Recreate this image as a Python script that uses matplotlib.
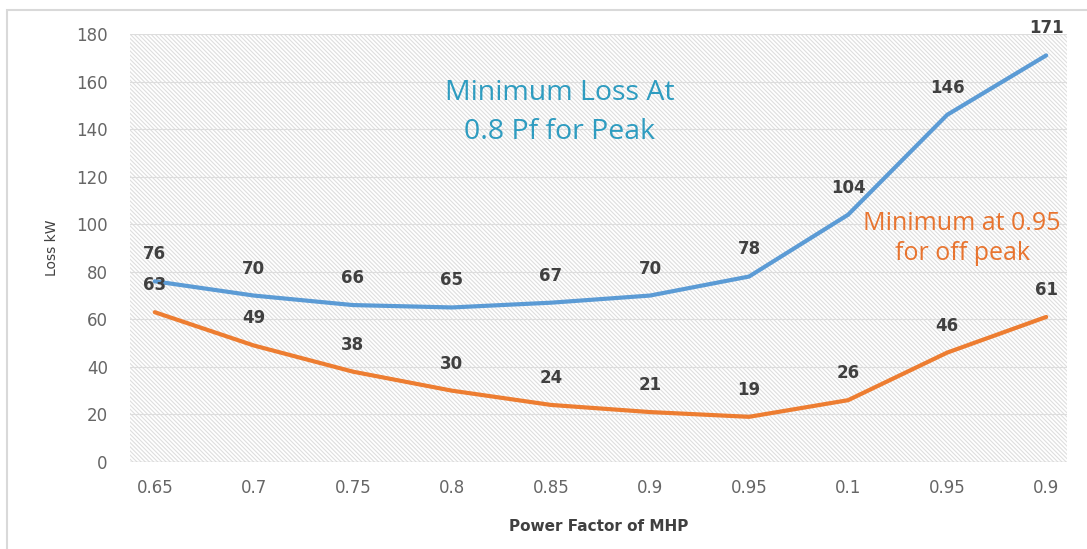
import matplotlib.pyplot as plt
from matplotlib.patches import Rectangle

# Loss vs power factor of the MHP (kW)
pf_labels = ['0.65', '0.7', '0.75', '0.8', '0.85', '0.9', '0.95', '0.1', '0.95', '0.9']
peak_loss = [76, 70, 66, 65, 67, 70, 78, 104, 146, 171]
offpeak_loss = [63, 49, 38, 30, 24, 21, 19, 26, 46, 61]

blue = '#5B9BD5'
orange = '#ED7D31'
label_col = '#404040'
tick_col = '#666666'

plt.rcParams['hatch.linewidth'] = 0.8
plt.rcParams['hatch.color'] = '#DEDEDE'

fig = plt.figure(figsize=(10.87, 5.49), dpi=100)
# light frame around the chart
fig.patches.append(Rectangle((7 / 1087, -0.05), 1.2, 1 - 10 / 549 + 0.05,
                             transform=fig.transFigure, fill=False,
                             edgecolor='#D9D9D9', linewidth=1.5))

ax = fig.add_axes([130 / 1087, 1 - 462 / 549, 937 / 1087, 428 / 549])
x = list(range(len(pf_labels)))

# hatched plot background
ax.add_patch(Rectangle((0, 0), 1, 1, transform=ax.transAxes, facecolor='white',
                       hatch='\\' * 8, edgecolor='#DEDEDE', linewidth=0, zorder=0))

ax.plot(x, peak_loss, color=blue, linewidth=3, solid_capstyle='round', zorder=3)
ax.plot(x, offpeak_loss, color=orange, linewidth=3, solid_capstyle='round', zorder=3)

for series in (peak_loss, offpeak_loss):
    for xi, v in zip(x, series):
        ax.annotate(str(v), (xi, v), xytext=(0, 13), textcoords='offset points',
                    ha='center', va='bottom', fontsize=12, fontweight='bold',
                    color=label_col, zorder=4)

ax.text(4.09, 147, 'Minimum Loss At\n0.8 Pf for Peak', ha='center', va='center',
        fontsize=20.5, family='Open Sans', color='#2E9CC0', linespacing=1.5, zorder=4)
ax.text(8.15, 94, 'Minimum at 0.95\nfor off peak', ha='center', va='center',
        fontsize=18, family='Open Sans', color='#E8742F', linespacing=1.3, zorder=4)

ax.set_xlim(-0.25, 9.21)
ax.set_ylim(0, 180)
ax.set_yticks(range(0, 181, 20))
ax.set_xticks(x)
ax.set_xticklabels(pf_labels)
ax.tick_params(axis='both', length=0, labelsize=12, colors=tick_col)
ax.tick_params(axis='y', pad=16)
ax.tick_params(axis='x', pad=12)
ax.grid(axis='y', color='#DDDDDD', linewidth=0.8, zorder=1)
ax.set_axisbelow(True)
for s in ax.spines.values():
    s.set_visible(False)
ax.axhline(0, color='#D0D0D0', linewidth=1, zorder=2)

ax.set_ylabel('Loss kW', fontsize=10, color=label_col, labelpad=12)
ax.set_xlabel('Power Factor of MHP', fontsize=11, fontweight='bold', color=label_col, labelpad=16)

fig.savefig('out.png', dpi=100)
